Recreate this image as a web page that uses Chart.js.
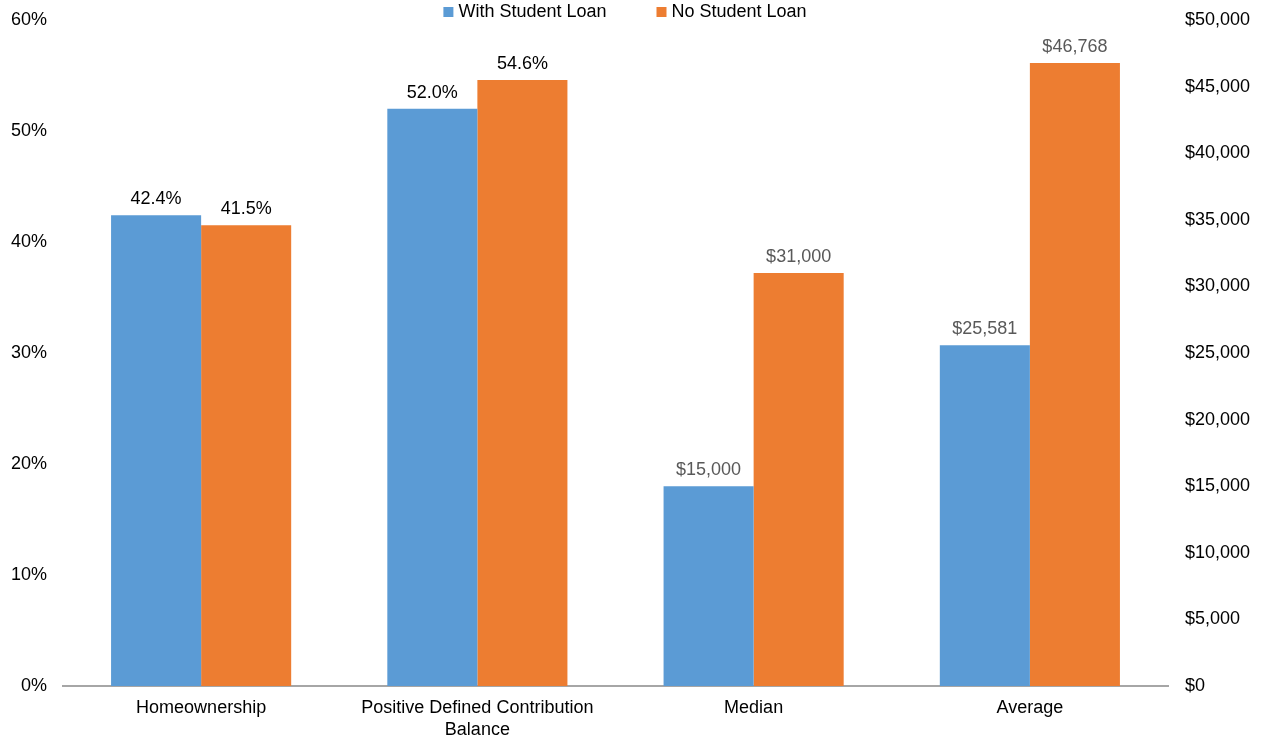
<!DOCTYPE html>
<html>
<head>
<meta charset="utf-8">
<title>Student loans: homeownership and retirement savings</title>
<script src="https://cdn.jsdelivr.net/npm/chart.js@4.4.1/dist/chart.umd.min.js"></script>
<style>
  html, body { margin: 0; padding: 0; background: #fff; }
</style>
</head>
<body>
<canvas id="loanChart" width="1261" height="736"></canvas>
<script>
// data
const categories = ["Homeownership", ["Positive Defined Contribution", "Balance"], "Median", "Average"];
const withLoan = [42.4, 52.0, 15000, 25581];
const noLoan = [41.5, 54.6, 31000, 46768];
// first two categories are shares (left axis), last two are dollars (right axis)
const valueKind = ["pct", "pct", "usd", "usd"];
const pctTicks = [0, 10, 20, 30, 40, 50, 60];
const usdTicks = [0, 5000, 10000, 15000, 20000, 25000, 30000, 35000, 40000, 45000, 50000];

const BLUE = "#5b9bd5";
const ORANGE = "#ed7d31";
const FONT = '"Liberation Sans", Arial, sans-serif';

Chart.defaults.font.family = FONT;
Chart.defaults.font.size = 18;
Chart.defaults.color = "#000";

function pick(values, kind) {
  return values.map((v, i) => (valueKind[i] === kind ? v : null));
}

function fmt(v, i) {
  if (valueKind[i] === "pct") return v.toFixed(1) + "%";
  return "$" + v.toLocaleString("en-US");
}

// value labels above each bar
const barLabels = {
  id: "barLabels",
  afterDatasetsDraw(chart) {
    const ctx = chart.ctx;
    ctx.save();
    ctx.font = "18px " + FONT;
    ctx.textAlign = "center";
    ctx.textBaseline = "middle";
    chart.data.datasets.forEach((ds, di) => {
      const meta = chart.getDatasetMeta(di);
      meta.data.forEach((bar, j) => {
        const v = ds.data[j];
        if (v == null) return;
        ctx.fillStyle = valueKind[j] === "pct" ? "#000" : "#595959";
        ctx.fillText(fmt(v, j), bar.x, bar.y - 16);
      });
    });
    ctx.restore();
  }
};

// legend on top, one entry per series
const topLegend = {
  id: "topLegend",
  afterDraw(chart) {
    const ctx = chart.ctx;
    const items = chart.data.datasets.slice(0, 2).map(ds => ({ text: ds.label, color: ds.backgroundColor }));
    const box = 10, gap = 5, spacing = 50;
    ctx.save();
    ctx.font = "18px " + FONT;
    ctx.textBaseline = "middle";
    const widths = items.map(it => box + gap + ctx.measureText(it.text).width);
    const total = widths.reduce((a, b) => a + b, 0) + spacing * (items.length - 1);
    let x = 625 - total / 2;
    const y = 12;
    items.forEach((it, k) => {
      ctx.fillStyle = it.color;
      ctx.fillRect(x, y - 5, box, box);
      ctx.fillStyle = "#000";
      ctx.fillText(it.text, x + box + gap, y);
      x += widths[k] + spacing;
    });
    ctx.restore();
  }
};

// fixed axis widths, no extra label overhang at top/bottom
function fixY(width) {
  return function (scale) {
    scale.width = width;
    scale.paddingTop = 0;
    scale.paddingBottom = 0;
  };
}

document.addEventListener("DOMContentLoaded", function () {
  const ctx = document.getElementById("loanChart");
  new Chart(ctx, {
    type: "bar",
    data: {
      labels: categories,
      datasets: [
        { label: "With Student Loan", data: pick(withLoan, "pct"), backgroundColor: BLUE, yAxisID: "y" },
        { label: "No Student Loan", data: pick(noLoan, "pct"), backgroundColor: ORANGE, yAxisID: "y" },
        { label: "With Student Loan", data: pick(withLoan, "usd"), backgroundColor: BLUE, yAxisID: "y1" },
        { label: "No Student Loan", data: pick(noLoan, "usd"), backgroundColor: ORANGE, yAxisID: "y1" }
      ]
    },
    options: {
      responsive: false,
      animation: false,
      layout: { padding: { top: 20, left: 0, right: 0, bottom: 0 } },
      datasets: {
        bar: { skipNull: true, barPercentage: 1, categoryPercentage: 0.652, borderWidth: 0 }
      },
      plugins: {
        legend: { display: false },
        tooltip: { enabled: false }
      },
      scales: {
        x: {
          grid: { display: false, drawTicks: false },
          border: { color: "#a6a6a6", width: 2 },
          ticks: { color: "#000", padding: 12, maxRotation: 0, autoSkip: false, font: { size: 18, lineHeight: 1.17 } },
          afterFit(scale) { scale.height = 50; scale.paddingLeft = 0; scale.paddingRight = 0; }
        },
        y: {
          position: "left",
          min: 0,
          max: 60,
          grid: { display: false, drawTicks: false },
          border: { display: false },
          afterBuildTicks(scale) { scale.ticks = pctTicks.map(v => ({ value: v })); },
          ticks: { color: "#000", padding: 16, callback: v => v + "%" },
          afterFit: fixY(63)
        },
        y1: {
          position: "right",
          min: 0,
          max: 50000,
          grid: { display: false, drawTicks: false },
          border: { display: false },
          afterBuildTicks(scale) { scale.ticks = usdTicks.map(v => ({ value: v })); },
          ticks: { color: "#000", padding: 17, callback: v => "$" + v.toLocaleString("en-US") },
          afterFit: fixY(93)
        }
      }
    },
    plugins: [barLabels, topLegend]
  });
});
</script>
</body>
</html>
